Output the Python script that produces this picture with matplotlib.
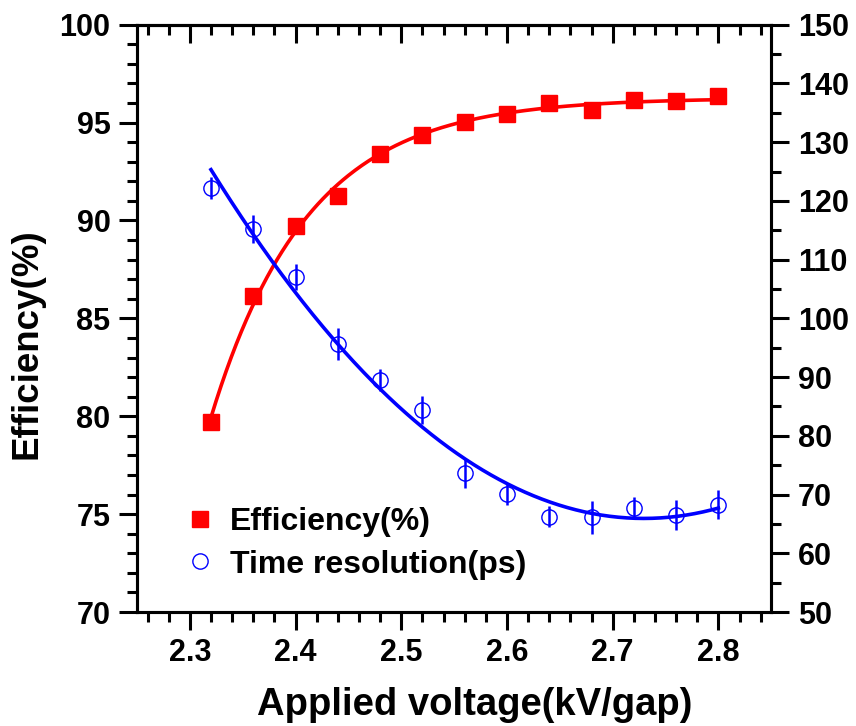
"""Efficiency and time resolution vs applied voltage."""

import matplotlib
matplotlib.use("Agg")
import matplotlib.pyplot as plt
import numpy as np

plt.rcParams["font.family"] = ["Liberation Sans", "DejaVu Sans"]
plt.rcParams["font.weight"] = "bold"

voltage = [2.32, 2.36, 2.40, 2.44, 2.48, 2.52, 2.56, 2.60, 2.64, 2.68, 2.72, 2.76, 2.80]
efficiency = [79.7, 86.15, 89.7, 91.25, 93.4, 94.35, 95.05, 95.45, 96.0, 95.65, 96.15, 96.1, 96.35]
time_res = [122.2, 115.2, 107.1, 95.6, 89.5, 84.4, 73.6, 70.1, 66.2, 66.1, 67.7, 66.5, 68.3]
time_err = [1.9, 2.4, 2.2, 2.7, 1.9, 2.4, 2.5, 1.9, 1.8, 2.8, 1.8, 2.6, 2.4]

x = np.array(voltage)
eff = np.array(efficiency)
tr = np.array(time_res)

# exponential saturation fit for efficiency: a + b*exp(-k*x)
best = None
for k in np.linspace(2, 40, 800):
    A = np.column_stack([np.ones_like(x), np.exp(-k * x)])
    coef, res, *_ = np.linalg.lstsq(A, eff, rcond=None)
    r = np.sum((A @ coef - eff) ** 2)
    if best is None or r < best[0]:
        best = (r, k, coef)
_, k_best, c_best = best
xf = np.linspace(x.min(), x.max(), 300)
eff_fit = c_best[0] + c_best[1] * np.exp(-k_best * xf)

# quadratic fit for time resolution
tr_fit = np.polyval(np.polyfit(x, tr, 2), xf)

fig = plt.figure(figsize=(8.56, 7.26), dpi=100)
ax = fig.add_axes([0.160, 0.157, 0.741, 0.809])
ax2 = ax.twinx()

ax.plot(xf, eff_fit, color="#ff0000", lw=2.6, zorder=2)
ax.plot(x, eff, "s", color="#ff0000", ms=11, zorder=3)
ax2.plot(xf, tr_fit, color="#0000ff", lw=2.6, zorder=2)
ax2.errorbar(x, tr, yerr=time_err, fmt="o", mfc="none", mec="#0000ff",
             ecolor="#0000ff", ms=11, mew=1.0, elinewidth=1.8, capsize=0, zorder=3)

ax.set_xlim(2.25, 2.85)
ax.set_ylim(70, 100)
ax2.set_ylim(50, 150)

ax.set_xticks(np.arange(2.3, 2.81, 0.1))
ax.set_xticks(np.arange(2.26, 2.85, 0.02), minor=True)
ax.set_yticks(np.arange(70, 101, 5))
ax.set_yticks(np.arange(70, 101, 1), minor=True)
ax2.set_yticks(np.arange(50, 151, 10))
ax2.set_yticks(np.arange(50, 151, 5), minor=True)

for a in (ax, ax2):
    for s in a.spines.values():
        s.set_linewidth(2.2)
    a.tick_params(which="major", length=13, width=2.2, direction="out", labelsize=22, pad=6)
    a.tick_params(which="minor", length=7, width=2.2, direction="out")
ax.tick_params(axis="x", which="both", top=False)
ax.set_xticklabels(["2.3", "2.4", "2.5", "2.6", "2.7", "2.8"])

top = ax.secondary_xaxis("top")
top.set_xticks(np.arange(2.3, 2.81, 0.1))
top.set_xticks(np.arange(2.26, 2.85, 0.02), minor=True)
top.tick_params(which="major", length=13, width=2.2, direction="in", labeltop=False)
top.tick_params(which="minor", length=7, width=2.2, direction="in")
top.spines["top"].set_linewidth(2.2)

ax.set_xlabel("Applied voltage(kV/gap)", fontsize=27.5, fontweight="bold", labelpad=10)
ax.xaxis.set_label_coords(0.533, -0.127)
ax.set_ylabel("Efficiency(%)", fontsize=26.5, fontweight="bold")
ax.yaxis.set_label_coords(-0.146, 0.457)

h1 = plt.Line2D([], [], marker="s", ls="none", color="#ff0000", ms=11)
h2 = plt.Line2D([], [], marker="o", ls="none", mfc="none", mec="#0000ff", ms=11, mew=1.0)
ax2.legend([h1, h2], ["Efficiency(%)", "Time resolution(ps)"], loc="upper left",
           bbox_to_anchor=(0.074, 0.178), frameon=False, fontsize=23,
           handlelength=1.0, handletextpad=0.45, labelspacing=0.38,
           borderpad=0, borderaxespad=0)

fig.savefig("out.png", dpi=100)
